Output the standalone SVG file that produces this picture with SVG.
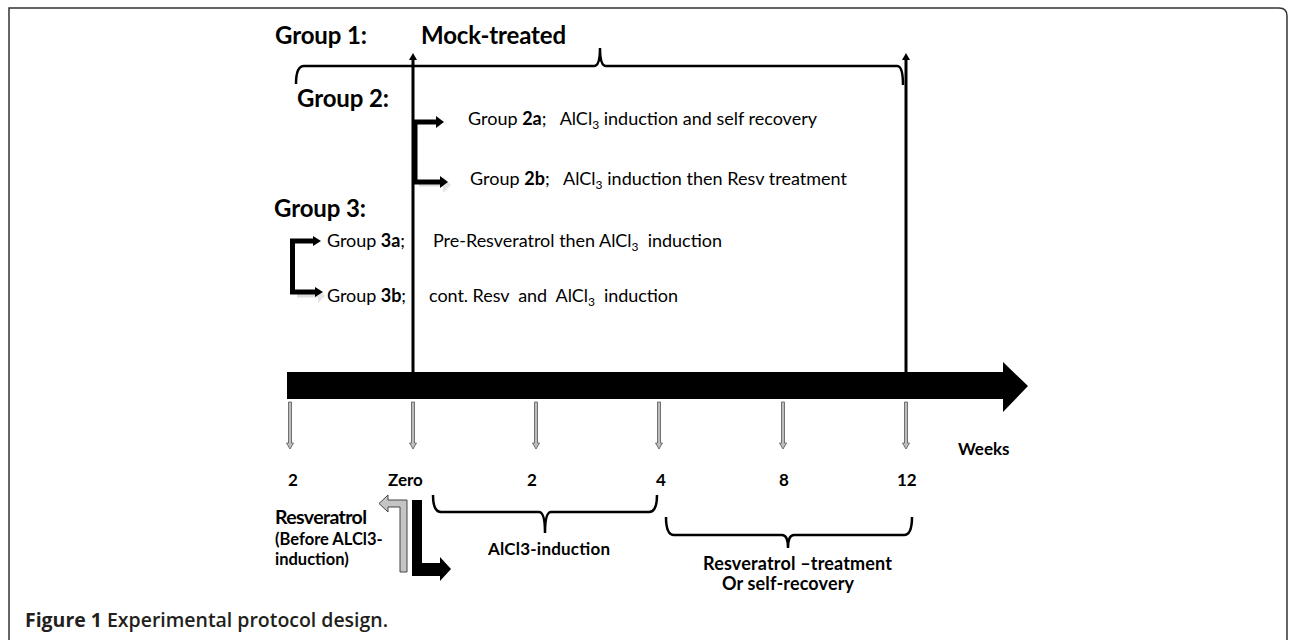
<svg xmlns="http://www.w3.org/2000/svg" width="1290" height="640" viewBox="0 0 1290 640">
<style>
  .t { font-family: Lato, "Liberation Sans", sans-serif; fill: #000; white-space: pre; }
  .hb { font-size: 24px; font-weight: bold; }
  .n { font-size: 18px; }
  .b { font-size: 17px; font-weight: bold; }
  .b18 { font-size: 18px; font-weight: bold; }
  .sub { font-size: 12px; }
  .cap { font-family: "Open Sans", "Liberation Sans", sans-serif; font-size: 19.5px; font-weight: bold; fill: #231f20; }
  .brace { fill: none; stroke: #000; stroke-width: 2.5; }
  .vl { stroke: #000; stroke-width: 3; fill: none; }
  .tick { fill: #bdbdbd; stroke: #555; stroke-width: 0.8; }
  .bk { fill: none; stroke: #000; stroke-width: 5; }
</style>
<rect width="1290" height="640" fill="#fff"/>
<path d="M9,640 V8 H1279 Q1287,8 1287,16 V640" fill="none" stroke="#333" stroke-width="1.5"/>

<g id="connectors">
  <polygon points="287,372 1003,372 1003,362 1028,386 1003,412 1003,399 287,399" fill="#000"/>
  <line class="vl" x1="413" y1="372" x2="413" y2="58"/>
  <polygon points="409,60 413,53 417,60" fill="#000"/>
  <line class="vl" x1="906" y1="372" x2="906" y2="58"/>
  <polygon points="902,60 906,53 910,60" fill="#000"/>
  <path class="brace" d="M296,84 Q296,66 304,66 H594 Q600,66 600,48 Q600,66 606,66 H897 Q903,66 903,85"/>
  <g id="ticks">
    <polygon class="tick" points="288.5,402 291.5,402 291.5,443 293.5,443 290,449 286.5,443 288.5,443"/>
    <polygon class="tick" points="411.5,402 414.5,402 414.5,443 416.5,443 413,449 409.5,443 411.5,443"/>
    <polygon class="tick" points="534.5,402 537.5,402 537.5,443 539.5,443 536,449 532.5,443 534.5,443"/>
    <polygon class="tick" points="657.5,402 660.5,402 660.5,443 662.5,443 659,449 655.5,443 657.5,443"/>
    <polygon class="tick" points="781.5,402 784.5,402 784.5,443 786.5,443 783,449 779.5,443 781.5,443"/>
    <polygon class="tick" points="904.5,402 907.5,402 907.5,443 909.5,443 906,449 902.5,443 904.5,443"/>
  </g>
  <path class="brace" d="M433,495 Q433,512 441,512 H539 Q545,512 545,533 Q545,512 551,512 H649 Q657,512 657,495"/>
  <path class="brace" d="M666,517 Q666,535 674,535 H782 Q788,535 788,548 Q788,535 794,535 H904 Q912,535 912,517"/>
</g>

<g id="group1">
  <text class="t hb" x="275" y="44" textLength="92">Group 1:</text>
  <text class="t hb" x="421" y="44" textLength="145">Mock-treated</text>
</g>

<g id="group2">
  <text class="t hb" x="297" y="107" textLength="92">Group 2:</text>
  <path d="M419,184 H444" fill="none" stroke="#ddd" stroke-width="5"/>
  <polygon points="443,177 451,185 443,193" fill="#e4e4e4"/>
  <path class="bk" d="M437,122 H415 V182 H441"/>
  <polygon points="436,116 444,122 436,128" fill="#000"/>
  <polygon points="440,176 448,182 440,188" fill="#000"/>
  <text class="t n" x="468" y="125" textLength="349">Group <tspan font-weight="bold">2a</tspan>;   AlCl<tspan class="sub" dy="4">3</tspan><tspan dy="-4"> induction and self recovery</tspan></text>
  <text class="t n" x="470" y="185" textLength="377">Group <tspan font-weight="bold">2b</tspan>;   AlCl<tspan class="sub" dy="4">3</tspan><tspan dy="-4"> induction then Resv treatment</tspan></text>
</g>

<g id="group3">
  <text class="t hb" x="274" y="217" textLength="92">Group 3:</text>
  <path d="M297,295 H318" fill="none" stroke="#ddd" stroke-width="5"/>
  <polygon points="318,288 325,296 318,303" fill="#e4e4e4"/>
  <path class="bk" d="M314,241 H292.5 V292 H316"/>
  <polygon points="313,236 321,241 313,246" fill="#000"/>
  <polygon points="315,287 323,292 315,297" fill="#000"/>
  <text class="t n" x="327" y="247" textLength="78">Group <tspan font-weight="bold">3a</tspan>;</text>
  <text class="t n" x="433" y="247" textLength="289">Pre-Resveratrol then AlCl<tspan class="sub" dy="4">3</tspan><tspan dy="-4">  induction</tspan></text>
  <text class="t n" x="327" y="302" textLength="79">Group <tspan font-weight="bold">3b</tspan>;</text>
  <text class="t n" x="429" y="302" textLength="249">cont. Resv  and  AlCl<tspan class="sub" dy="4">3</tspan><tspan dy="-4">  induction</tspan></text>
</g>

<g id="timeline-labels">
  <text class="t b" x="288" y="486">2</text>
  <text class="t b" x="388" y="486">Zero</text>
  <text class="t b" x="527" y="486">2</text>
  <text class="t b" x="656" y="486">4</text>
  <text class="t b" x="779" y="486">8</text>
  <text class="t b" x="897" y="486">12</text>
  <text class="t b" x="958" y="455">Weeks</text>
</g>

<g id="induction">
  <text class="t b" x="488" y="555" textLength="122">AlCl3-induction</text>
</g>

<g id="treatment">
  <text class="t b18" x="703" y="570" textLength="189">Resveratrol –treatment</text>
  <text class="t b18" x="722" y="590" textLength="132">Or self-recovery</text>
</g>

<g id="pre-resveratrol">
  <text class="t b18" x="275" y="524" style="font-size:19.5px" textLength="92">Resveratrol</text>
  <text class="t b18" x="275" y="545" style="font-size:16.5px">(Before ALCl3-</text>
  <text class="t b18" x="275" y="565" style="font-size:16.5px">induction)</text>
  <polygon points="407,500 407,572 400,572 400,507 388,507 388,512 379,503.5 388,495 388,500" fill="#c4c4c4" stroke="#444" stroke-width="1"/>
  <polygon points="412,500 422,500 422,563 440,563 440,557 451,569 440,581 440,576 412,576" fill="#000"/>
</g>

<g id="caption">
  <text class="cap" x="25" y="627" textLength="363">Figure 1 <tspan font-weight="600">Experimental protocol design.</tspan></text>
</g>
</svg>
